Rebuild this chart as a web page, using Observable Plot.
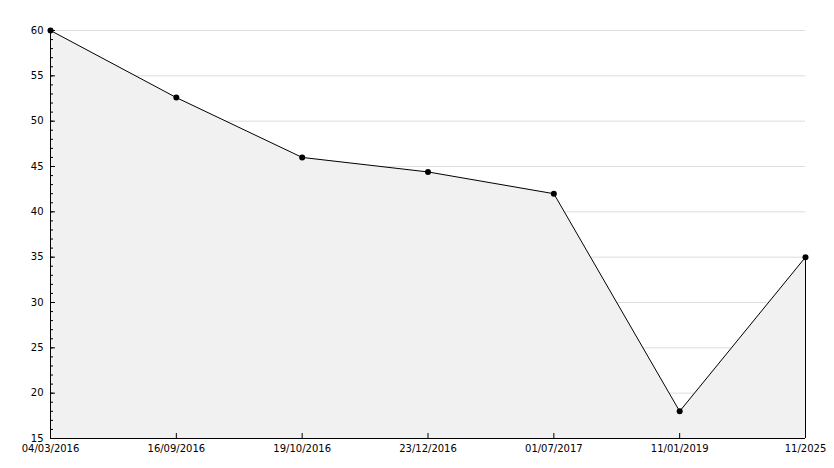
<!DOCTYPE html>
<html>
<head>
<meta charset="utf-8">
<script src="https://cdn.jsdelivr.net/npm/d3@7"></script>
<script src="https://cdn.jsdelivr.net/npm/@observablehq/plot@0.6"></script>
<style>
  html, body { margin: 0; padding: 0; background: #fff; }
  #chart svg { display: block; }
</style>
</head>
<body>
<div id="chart"></div>
<script>
const dates = ["04/03/2016", "16/09/2016", "19/10/2016", "23/12/2016", "01/07/2017", "11/01/2019", "11/2025"];
const values = [60, 52.6, 46, 44.4, 42, 18, 35];
const yTicks = [15, 20, 25, 30, 35, 40, 45, 50, 55, 60];
const yMinor = d3.range(15, 61, 1);

const data = dates.map((d, i) => ({date: d, value: values[i]}));
const last = data[data.length - 1];

const W = 834, H = 468, ML = 50, MR = 29, MT = 30, MB = 30;
const FW = W - ML - MR, FH = H - MT - MB;

const chart = Plot.plot({
  width: W,
  height: H,
  marginLeft: ML,
  marginRight: MR,
  marginTop: MT,
  marginBottom: MB,
  style: {fontFamily: "DejaVu Sans", fontSize: "10px", color: "#000", background: "#fff"},
  x: {type: "point", domain: dates, padding: 0, round: false, label: null},
  y: {domain: [15, 60], label: null},
  marks: [
    Plot.ruleY(yTicks.filter(v => v > 15), {stroke: "#dcdcdc", strokeWidth: 1}),
    Plot.areaY(data, {x: "date", y1: 15, y2: "value", fill: "#f1f1f1", curve: "linear"}),
    Plot.ruleX([last], {x: "date", y1: 15, y2: "value", stroke: "#000"}),
    Plot.line(data, {x: "date", y: "value", stroke: "#000", strokeWidth: 1}),
    Plot.dot(data, {x: "date", y: "value", r: 3, fill: "#000", stroke: "none"}),
    Plot.tickY(yMinor, {y: d => d, insetRight: FW - 3, stroke: "#000"}),
    Plot.tickY(yTicks, {y: d => d, insetRight: FW - 5, stroke: "#000"}),
    Plot.axisY(yTicks, {tickSize: 0, tickPadding: 7, fontSize: 10, fill: "#000"}),
    Plot.tickX(dates, {x: d => d, insetTop: FH - 5, stroke: "#000"}),
    Plot.axisX(dates, {tickSize: 0, tickPadding: 6, fontSize: 10, fill: "#000"}),
    Plot.ruleX([dates[0]], {stroke: "#000"}),
    Plot.ruleY([15], {stroke: "#000"})
  ]
});
document.getElementById("chart").appendChild(chart);
</script>
</body>
</html>
